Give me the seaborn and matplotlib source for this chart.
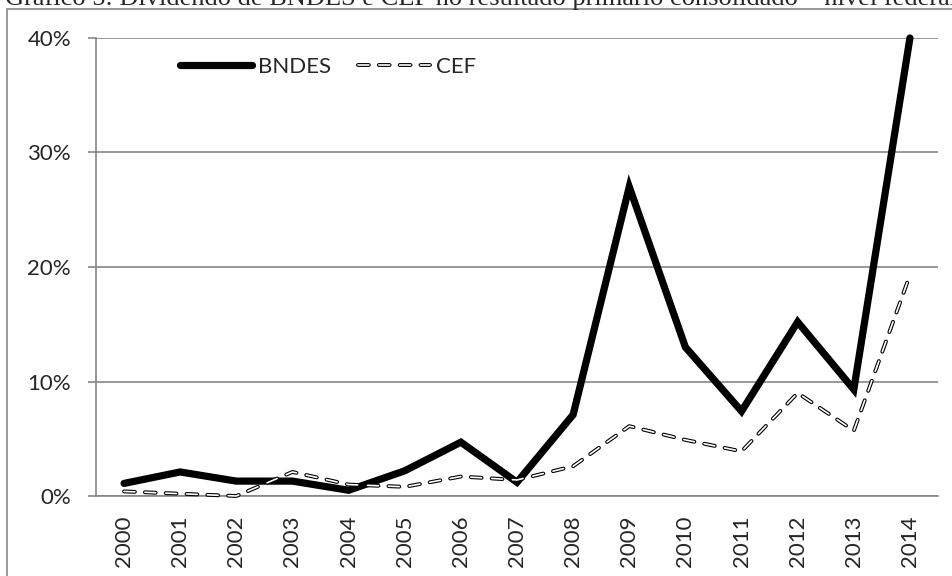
import matplotlib
matplotlib.use("Agg")
import matplotlib.pyplot as plt
import matplotlib.patheffects as pe
from matplotlib.patches import Rectangle
from matplotlib.ticker import FixedLocator, FuncFormatter
import numpy as np
import pandas as pd
import seaborn as sns

# Dados (% do resultado primário)
anos = [str(a) for a in range(2000, 2015)]
bndes = [1.1, 2.1, 1.3, 1.3, 0.5, 2.2, 4.7, 1.2, 7.1, 27.0, 13.0, 7.4, 15.2, 9.3, 40.0]
cef = [0.4, 0.2, 0.0, 2.1, 1.0, 0.8, 1.7, 1.4, 2.6, 6.1, 4.9, 3.9, 9.0, 5.7, 19.3]
titulo = "Gráfico 5: Dividendo de BNDES e CEF no resultado primário consolidado – nível federal"

df = pd.DataFrame({"ano": anos, "BNDES": bndes, "CEF": cef})

sns.set_style("white")
plt.rcParams['font.family'] = ['Lato', 'DejaVu Sans']

GRAY = "#868686"
FS = 16

fig = plt.figure(figsize=(9.52, 5.76), dpi=100)
ax = fig.add_axes([96 / 952, 80 / 576, 842 / 952, 458 / 576])

# moldura externa (cortada à direita e embaixo)
fig.patches.append(Rectangle((7 / 952, -0.1), 1.2, (576 - 9) / 576 + 0.1,
                             transform=fig.transFigure, fill=False,
                             edgecolor=GRAY, linewidth=1.2))
fig.text(5 / 952, 1 - 5 / 576, titulo, family='Liberation Serif', fontsize=19,
         ha='left', va='baseline')

sns.lineplot(data=df, x="ano", y="BNDES", ax=ax, color="black", linewidth=5.2,
             label="BNDES", solid_joinstyle='miter', solid_capstyle='round',
             clip_on=False, zorder=4)
sns.lineplot(data=df, x="ano", y="CEF", ax=ax, color="white", linewidth=1.2,
             label="CEF", zorder=5, clip_on=False)
cef_line = ax.lines[1]
cef_line.set_dashes((6.5, 6))
cef_line.set_dash_capstyle('round')
cef_line.set_path_effects([pe.Stroke(linewidth=2.8, foreground='black'), pe.Normal()])

ax.set_xlim(-0.5, len(anos) - 0.5)
ax.set_ylim(0, 40)
ax.set_yticks([0, 10, 20, 30, 40])
ax.yaxis.set_major_formatter(FuncFormatter(lambda v, p: f"{v:.0f}%"))
ax.grid(axis='y', color=GRAY, linewidth=1.2)
ax.grid(axis='x', visible=False)
ax.set_xlabel("")
ax.set_ylabel("")

for s in ['top', 'right']:
    ax.spines[s].set_visible(False)
for s in ['left', 'bottom']:
    ax.spines[s].set_color(GRAY)
    ax.spines[s].set_linewidth(1.2)

ax.xaxis.set_minor_locator(FixedLocator(np.arange(-0.5, len(anos), 1.0)))
ax.tick_params(axis='x', which='major', length=0, pad=14, labelsize=FS, labelrotation=90)
ax.tick_params(axis='x', which='minor', length=6, width=1.2, color=GRAY, direction='out')
ax.tick_params(axis='y', which='major', length=6, width=1.2, color=GRAY, pad=12,
               labelsize=FS, left=True)
for lbl in ax.get_xticklabels():
    lbl.set_va('top')

ax.legend(loc='upper left', bbox_to_anchor=(0.0998, 0.958), ncol=2, frameon=False,
          fontsize=FS, handlelength=3.25, handletextpad=0.27, columnspacing=1.2,
          borderaxespad=0, borderpad=0)

fig.savefig("out.png", dpi=100)
